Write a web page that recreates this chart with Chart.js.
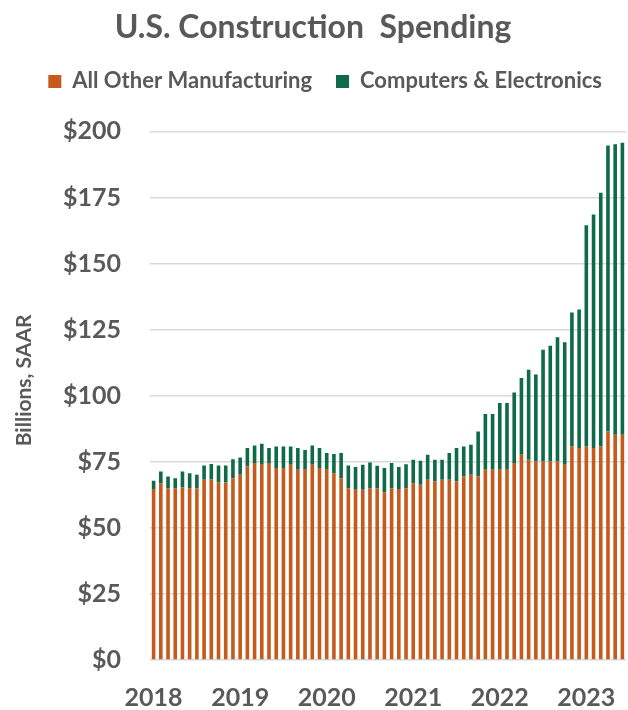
<!DOCTYPE html>
<html>
<head>
<meta charset="utf-8">
<script src="https://cdn.jsdelivr.net/npm/chart.js@4/dist/chart.umd.min.js"></script>
<style>
  html, body { margin: 0; padding: 0; background: #fff; }
  #wrap { width: 628px; height: 710px; }
</style>
</head>
<body>
<div id="wrap"><canvas id="chart"></canvas></div>
<script>
// monthly, Jan 2018 .. Jun 2023
var months = [];
for (var y = 2018; y <= 2023; y++) {
  for (var m = 1; m <= 12; m++) {
    if (y === 2023 && m > 6) break;
    months.push(y + "-" + (m < 10 ? "0" + m : m));
  }
}

// $ billions, SAAR
var otherMfg = [
  64.7, 66.9, 65.0, 65.0, 65.3, 65.0, 65.0, 68.2, 68.4, 67.2, 67.2, 68.8,
  70.1, 73.2, 74.5, 73.9, 74.5, 72.6, 72.6, 73.9, 72.0, 72.0, 73.9, 72.6,
  72.0, 70.7, 68.8, 65.0, 64.4, 64.4, 65.0, 65.0, 63.4, 65.0, 64.4, 65.0,
  66.9, 66.3, 68.2, 67.5, 68.2, 68.2, 67.5, 69.4, 70.1, 69.4, 72.0, 72.0,
  72.0, 72.0, 74.5, 77.7, 75.8, 75.1, 75.1, 75.1, 75.1, 73.9, 80.8, 80.2,
  80.8, 80.2, 80.8, 86.5, 85.2, 85.2
];
var computers = [
  3.1, 4.4, 4.4, 3.8, 6.0, 5.7, 5.1, 5.4, 5.8, 6.4, 6.4, 7.2,
  6.5, 7.0, 6.7, 7.9, 5.7, 8.2, 8.2, 6.9, 8.2, 7.5, 7.3, 7.6,
  6.3, 7.2, 9.5, 8.6, 8.6, 9.5, 9.7, 8.5, 9.2, 9.5, 8.6, 9.1,
  8.9, 9.1, 9.5, 8.3, 7.6, 10.1, 12.7, 11.4, 11.3, 17.1, 21.1, 21.1,
  25.2, 25.2, 26.7, 29.0, 34.0, 32.9, 42.3, 43.8, 47.0, 46.3, 50.7, 52.4,
  83.7, 88.4, 96.0, 108.2, 109.9, 110.5
];
var yTicks = [0, 25, 50, 75, 100, 125, 150, 175, 200];

var grey = "#595959";
var font = "Lato, 'DejaVu Sans', sans-serif";

// extra room between the legend and the plot
var legendGap = {
  id: "legendGap",
  beforeLayout: function (chart) {
    var lg = chart.legend;
    if (lg && !lg._gap) {
      var fit = lg.fit;
      lg.fit = function () { fit.call(this); this.height += 29; };
      lg._gap = true;
    }
  }
};

var ctx = document.getElementById("chart");
var myChart = new Chart(ctx, {
  type: "bar",
  plugins: [legendGap],
  data: {
    labels: months,
    datasets: [
      {
        label: "All Other Manufacturing",
        data: otherMfg,
        backgroundColor: "#C55A1C",
        barPercentage: 0.5,
        categoryPercentage: 1.0
      },
      {
        label: "Computers & Electronics",
        data: computers,
        backgroundColor: "#0E6A49",
        barPercentage: 0.5,
        categoryPercentage: 1.0
      }
    ]
  },
  options: {
    responsive: true,
    maintainAspectRatio: false,
    animation: false,
    layout: { padding: { left: 0, right: 2, top: 4, bottom: 0 } },
    plugins: {
      title: {
        display: true,
        text: "U.S. Construction  Spending",
        color: grey,
        font: { family: font, size: 32, weight: "bold" },
        padding: { top: 4, bottom: 0 }
      },
      legend: {
        display: true,
        align: "end",
        labels: {
          color: grey,
          font: { family: font, size: 22, weight: "bold" },
          boxWidth: 13,
          boxHeight: 13,
          padding: 24
        }
      },
      tooltip: { enabled: false }
    },
    scales: {
      x: {
        stacked: true,
        afterFit: function (s) { s.height = 50; },
        grid: { display: false, drawTicks: true, tickLength: 23 },
        border: { display: false },
        ticks: {
          autoSkip: false,
          maxRotation: 0,
          color: grey,
          font: { family: font, size: 25, weight: "bold" },
          padding: 0,
          callback: function (v, i) {
            var l = months[i];
            return l.slice(5) === "01" ? l.slice(0, 4) : "";
          }
        }
      },
      y: {
        stacked: true,
        min: 0,
        max: 200,
        afterBuildTicks: function (s) {
          s.ticks = yTicks.map(function (v) { return { value: v }; });
        },
        afterFit: function (s) { s.width = 150; },
        grid: { color: "#D9D9D9", lineWidth: 1.5, drawTicks: false },
        border: { display: false },
        ticks: {
          color: grey,
          font: { family: font, size: 25, weight: "bold" },
          padding: 29,
          callback: function (v) { return "$" + v; }
        },
        title: {
          display: true,
          text: "      Billions, SAAR",
          color: grey,
          font: { family: font, size: 21, weight: "bold" },
          padding: { top: 12, bottom: 0 }
        }
      }
    }
  }
});
</script>
</body>
</html>
